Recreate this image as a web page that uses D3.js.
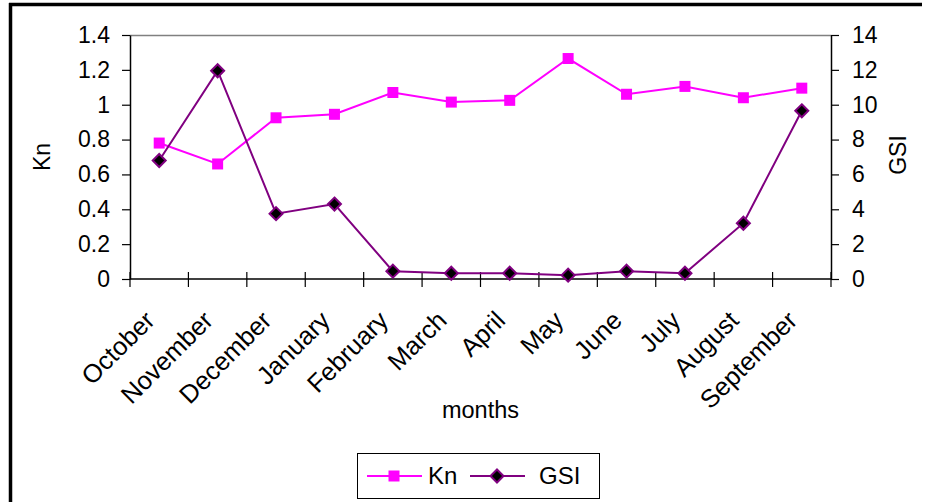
<!DOCTYPE html>
<html>
<head>
<meta charset="utf-8">
<script src="https://cdn.jsdelivr.net/npm/d3@7"></script>
<style>
  html, body { margin: 0; padding: 0; background: #fff; }
  svg { display: block; }
  text { font-family: "Liberation Sans", Arial, sans-serif; fill: #000; }
</style>
</head>
<body>
<svg id="chart" width="925" height="502"></svg>
<script>
// Monthly condition factor (Kn) and gonadosomatic index (GSI)
const months = ["October", "November", "December", "January", "February", "March",
                "April", "May", "June", "July", "August", "September"];
const knValues  = [0.78, 0.66, 0.925, 0.945, 1.07, 1.015, 1.025, 1.265, 1.06, 1.105, 1.04, 1.095];
const gsiValues = [6.8, 11.95, 3.75, 4.3, 0.45, 0.33, 0.33, 0.22, 0.45, 0.33, 3.2, 9.65];
const knTicks  = [0, 0.2, 0.4, 0.6, 0.8, 1, 1.2, 1.4];
const gsiTicks = [0, 2, 4, 6, 8, 10, 12, 14];

const svg = d3.select("#chart");
const plot = { left: 130, right: 831, top: 35, bottom: 279 };
const fontSize = 23;
const monthFontSize = 25.5;

const x = d3.scaleBand().domain(months).range([plot.left, plot.right]).padding(0);
const yKn = d3.scaleLinear().domain([0, 1.4]).range([plot.bottom, plot.top]);
const yGsi = d3.scaleLinear().domain([0, 14]).range([plot.bottom, plot.top]);
const cx = m => x(m) + x.bandwidth() / 2;

// outer frame (top and left edges)
svg.append("line").attr("x1", 9).attr("x2", 922).attr("y1", 4.5).attr("y2", 4.5)
  .attr("stroke", "#000").attr("stroke-width", 3.5);
svg.append("line").attr("x1", 10.5).attr("x2", 10.5).attr("y1", 3).attr("y2", 502)
  .attr("stroke", "#000").attr("stroke-width", 3.5);

// plot area top border
svg.append("line").attr("x1", plot.left).attr("x2", plot.right)
  .attr("y1", plot.top + 0.5).attr("y2", plot.top + 0.5)
  .attr("stroke", "#808080").attr("stroke-width", 1.5);

// left axis (Kn)
const leftAxis = svg.append("g").attr("transform", `translate(${plot.left},0)`)
  .call(d3.axisLeft(yKn).tickValues(knTicks).tickFormat(d => d3.format("")(d))
    .tickSize(8).tickPadding(12).tickSizeOuter(0));
// right axis (GSI)
const rightAxis = svg.append("g").attr("transform", `translate(${plot.right},0)`)
  .call(d3.axisRight(yGsi).tickValues(gsiTicks).tickSize(8).tickPadding(13).tickSizeOuter(0));

[leftAxis, rightAxis].forEach(g => {
  g.select(".domain").attr("stroke", "#000").attr("stroke-width", 1.5);
  g.selectAll(".tick line").attr("stroke", "#000").attr("stroke-width", 1.2);
  g.selectAll(".tick text").attr("font-size", fontSize)
    .attr("font-family", "'Liberation Sans', Arial, sans-serif").attr("fill", "#000");
});

// bottom axis line with tick marks on category boundaries
const xg = svg.append("g");
xg.append("line").attr("x1", plot.left).attr("x2", plot.right)
  .attr("y1", plot.bottom).attr("y2", plot.bottom)
  .attr("stroke", "#000").attr("stroke-width", 1.5);
const boundaries = months.map(m => x(m)).concat([x.range()[1]]);
xg.selectAll("line.tk").data(boundaries).join("line").attr("class", "tk")
  .attr("x1", d => d).attr("x2", d => d)
  .attr("y1", plot.bottom - 7).attr("y2", plot.bottom + 8)
  .attr("stroke", "#000").attr("stroke-width", 1.2);

// rotated month labels
xg.selectAll("text.month").data(months).join("text").attr("class", "month")
  .attr("transform", d => `translate(${cx(d) - 3},${plot.bottom + 43}) rotate(-45)`)
  .attr("text-anchor", "end")
  .attr("font-size", monthFontSize)
  .text(d => d);

// axis titles
svg.append("text").attr("x", (plot.left + plot.right) / 2).attr("y", 418)
  .attr("text-anchor", "middle").attr("font-size", fontSize + 0.5).text("months");
svg.append("text").attr("transform", `translate(50,${(plot.top + plot.bottom) / 2}) rotate(-90)`)
  .attr("text-anchor", "middle").attr("font-size", fontSize).text("Kn");
svg.append("text").attr("transform", `translate(906,${(plot.top + plot.bottom) / 2 - 2}) rotate(-90)`)
  .attr("text-anchor", "middle").attr("font-size", fontSize).text("GSI");

// series lines
const knColor = "#FF00FF";
const gsiColor = "#800080";
const knData = months.map((m, i) => ({ m, v: knValues[i] }));
const gsiData = months.map((m, i) => ({ m, v: gsiValues[i] }));

svg.append("path").datum(knData)
  .attr("d", d3.line().x(d => cx(d.m)).y(d => yKn(d.v)))
  .attr("fill", "none").attr("stroke", knColor).attr("stroke-width", 2);
svg.append("path").datum(gsiData)
  .attr("d", d3.line().x(d => cx(d.m)).y(d => yGsi(d.v)))
  .attr("fill", "none").attr("stroke", gsiColor).attr("stroke-width", 2);

const square = d3.symbol().type(d3.symbolSquare).size(121);
const diamond = "M0,-6.5L6.5,0L0,6.5L-6.5,0Z";

svg.selectAll("path.kn").data(knData).join("path").attr("class", "kn")
  .attr("transform", d => `translate(${cx(d.m)},${yKn(d.v)})`)
  .attr("d", square).attr("fill", knColor);
svg.selectAll("path.gsi").data(gsiData).join("path").attr("class", "gsi")
  .attr("transform", d => `translate(${cx(d.m)},${yGsi(d.v)})`)
  .attr("d", diamond).attr("fill", "#000").attr("stroke", gsiColor).attr("stroke-width", 2);

// legend
const lg = svg.append("g");
lg.append("rect").attr("x", 357.5).attr("y", 453.5).attr("width", 242).attr("height", 45)
  .attr("fill", "#fff").attr("stroke", "#000").attr("stroke-width", 1);
lg.append("line").attr("x1", 367).attr("x2", 422).attr("y1", 476).attr("y2", 476)
  .attr("stroke", knColor).attr("stroke-width", 2);
lg.append("path").attr("transform", "translate(394,476)").attr("d", square).attr("fill", knColor);
lg.append("text").attr("x", 428).attr("y", 484).attr("font-size", fontSize + 1).text("Kn");
lg.append("line").attr("x1", 470).attr("x2", 525).attr("y1", 476).attr("y2", 476)
  .attr("stroke", gsiColor).attr("stroke-width", 2);
lg.append("path").attr("transform", "translate(497,476)").attr("d", diamond)
  .attr("fill", "#000").attr("stroke", gsiColor).attr("stroke-width", 2);
lg.append("text").attr("x", 539).attr("y", 484).attr("font-size", fontSize + 1).text("GSI");
</script>
</body>
</html>
